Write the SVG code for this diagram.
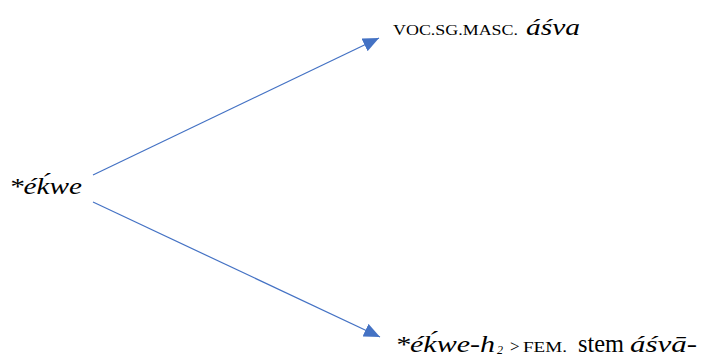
<svg xmlns="http://www.w3.org/2000/svg" width="706" height="362" viewBox="0 0 706 362">
<style>
.t{font-family:"Liberation Serif","DejaVu Serif",serif;fill:#000}
.i{font-style:italic}
.sc{font-size:14px}
.e{stroke:#4472C4;stroke-width:1.2;fill:none}
</style>
<defs>
<marker id="ah2" viewBox="0 0 16 14" refX="16" refY="7" markerWidth="16" markerHeight="14" markerUnits="userSpaceOnUse" orient="auto">
<path d="M0,0 L16,7 L0,14 z" fill="#4472C4"/>
</marker>
</defs>
<g id="connectors">
<line class="e" x1="93" y1="175" x2="379" y2="38" marker-end="url(#ah2)"/>
<line class="e" x1="93" y1="202" x2="380" y2="337" marker-end="url(#ah2)"/>
</g>
<g id="source">
<text class="t i" x="9" y="194" font-size="24" textLength="73" lengthAdjust="spacingAndGlyphs">*éḱwe</text>
</g>
<g id="top">
<text class="t sc" x="393" y="35" textLength="125" lengthAdjust="spacingAndGlyphs">VOC.SG.MASC.</text>
<text class="t i" x="526" y="35" font-size="24" textLength="54" lengthAdjust="spacingAndGlyphs">áśva</text>
</g>
<g id="bottom">
<text class="t i" x="395" y="352" font-size="24" textLength="100" lengthAdjust="spacingAndGlyphs">*éḱwe-h</text>
<text class="t i" x="497" y="354" font-size="12">2</text>
<text class="t" x="510" y="352" font-size="17">&gt;</text>
<text class="t sc" x="523" y="352" textLength="44" lengthAdjust="spacingAndGlyphs">FEM.</text>
<text class="t" x="578" y="352" font-size="25" textLength="46" lengthAdjust="spacingAndGlyphs">stem</text>
<text class="t i" x="630" y="352" font-size="24" textLength="67" lengthAdjust="spacingAndGlyphs">áśvā-</text>
</g>
</svg>
